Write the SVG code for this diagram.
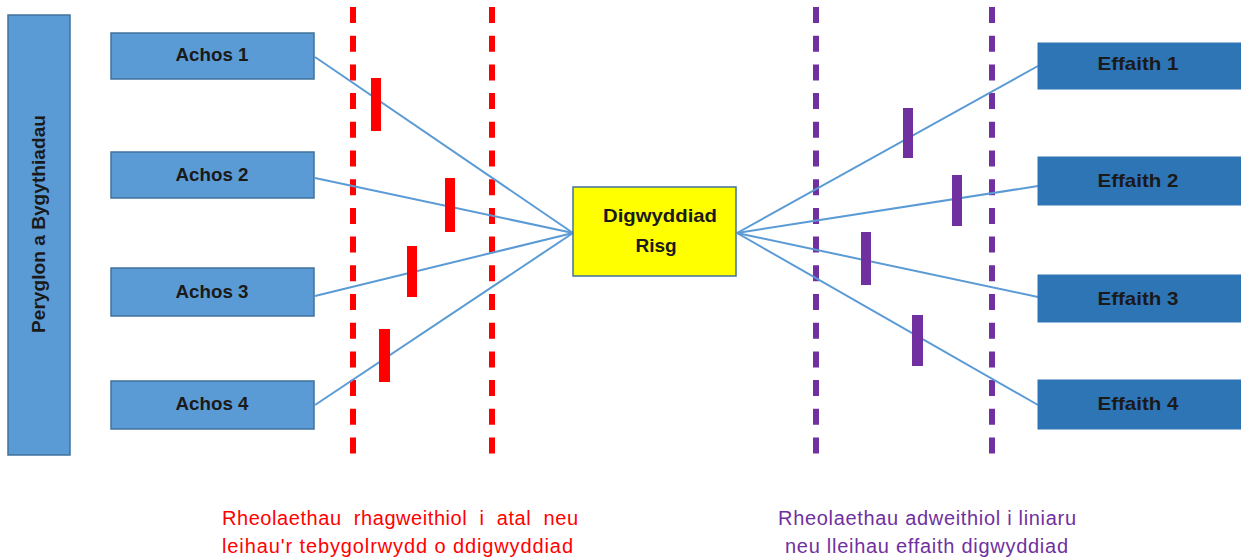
<svg xmlns="http://www.w3.org/2000/svg" width="1241" height="559" viewBox="0 0 1241 559">
<style>
.box{fill:#5b9bd5;stroke:#41719c;stroke-width:1.5}
.ebox{fill:#2e75b6;stroke:#2e75b6;stroke-width:1}
.lbl{font-family:"Liberation Sans",Arial,sans-serif;font-weight:bold;font-size:19px;fill:#1a1a1a;text-anchor:middle}
.conn{stroke:#5b9bd5;stroke-width:2;fill:none}
.rdash{stroke:#ff0000;stroke-width:6;stroke-dasharray:16 12.7;fill:none}
.pdash{stroke:#7030a0;stroke-width:6;stroke-dasharray:16 12.7;fill:none}
.rbar{fill:#ff0000}
.pbar{fill:#7030a0}
.note{font-family:"Liberation Sans",Arial,sans-serif;font-size:20px;white-space:pre}
</style>
<rect width="1241" height="559" fill="#ffffff"/>
<g id="controls">
<line class="rdash" x1="353" y1="7" x2="353" y2="455"/>
<line class="rdash" x1="492" y1="7" x2="492" y2="455"/>
<line class="pdash" x1="816" y1="7" x2="816" y2="455"/>
<line class="pdash" x1="992" y1="7" x2="992" y2="455"/>
</g>
<g id="connectors">
<line class="conn" x1="315" y1="57" x2="573" y2="233"/>
<line class="conn" x1="315" y1="178" x2="573" y2="233"/>
<line class="conn" x1="315" y1="296" x2="573" y2="233"/>
<line class="conn" x1="315" y1="405" x2="573" y2="233"/>
<line class="conn" x1="737" y1="233" x2="1038" y2="66"/>
<line class="conn" x1="737" y1="233" x2="1038" y2="186"/>
<line class="conn" x1="737" y1="233" x2="1038" y2="297"/>
<line class="conn" x1="737" y1="233" x2="1038" y2="405"/>
</g>
<g id="barriers">
<rect class="rbar" x="371" y="78" width="10" height="53"/>
<rect class="rbar" x="445" y="178" width="10" height="54"/>
<rect class="rbar" x="407" y="246" width="10" height="51"/>
<rect class="rbar" x="379" y="329" width="11" height="53"/>
<rect class="pbar" x="903" y="108" width="10" height="50"/>
<rect class="pbar" x="952" y="175" width="10" height="51"/>
<rect class="pbar" x="861" y="232" width="10" height="53"/>
<rect class="pbar" x="912" y="315" width="11" height="51"/>
</g>
<g id="hazards">
<rect class="box" x="8" y="15" width="62" height="440"/>
<text class="lbl" transform="translate(45 224) rotate(-90)" textLength="218" lengthAdjust="spacingAndGlyphs">Peryglon a Bygythiadau</text>
</g>
<g id="achos1"><rect class="box" x="111" y="33" width="203" height="46"/><text class="lbl" x="212" y="61" textLength="73" lengthAdjust="spacingAndGlyphs">Achos 1</text></g>
<g id="achos2"><rect class="box" x="111" y="152" width="203" height="46"/><text class="lbl" x="212" y="181" textLength="73" lengthAdjust="spacingAndGlyphs">Achos 2</text></g>
<g id="achos3"><rect class="box" x="111" y="268" width="203" height="48"/><text class="lbl" x="212" y="298" textLength="73" lengthAdjust="spacingAndGlyphs">Achos 3</text></g>
<g id="achos4"><rect class="box" x="111" y="381" width="203" height="48"/><text class="lbl" x="212" y="410" textLength="73" lengthAdjust="spacingAndGlyphs">Achos 4</text></g>
<g id="risk">
<rect x="573" y="187" width="163" height="89" fill="#ffff00" stroke="#41719c" stroke-width="1.5"/>
<text class="lbl" x="660" y="222" textLength="114" lengthAdjust="spacingAndGlyphs">Digwyddiad</text>
<text class="lbl" x="656" y="252">Risg</text>
</g>
<g id="effaith1"><rect class="ebox" x="1038" y="43" width="210" height="46"/><text class="lbl" x="1138" y="70" textLength="81" lengthAdjust="spacingAndGlyphs">Effaith 1</text></g>
<g id="effaith2"><rect class="ebox" x="1038" y="157" width="210" height="48"/><text class="lbl" x="1138" y="187" textLength="81" lengthAdjust="spacingAndGlyphs">Effaith 2</text></g>
<g id="effaith3"><rect class="ebox" x="1038" y="275" width="210" height="47"/><text class="lbl" x="1138" y="305" textLength="81" lengthAdjust="spacingAndGlyphs">Effaith 3</text></g>
<g id="effaith4"><rect class="ebox" x="1038" y="380" width="210" height="49"/><text class="lbl" x="1138" y="410" textLength="81" lengthAdjust="spacingAndGlyphs">Effaith 4</text></g>
<g id="notes">
<text class="note" x="222" y="525" fill="#ff0000" textLength="356" lengthAdjust="spacing">Rheolaethau  rhagweithiol  i  atal  neu</text>
<text class="note" x="222" y="553" fill="#ff0000" textLength="351" lengthAdjust="spacing">leihau'r tebygolrwydd o ddigwyddiad</text>
<text class="note" x="778" y="525" fill="#7030a0" textLength="298" lengthAdjust="spacing">Rheolaethau adweithiol i liniaru</text>
<text class="note" x="785" y="553" fill="#7030a0" textLength="283" lengthAdjust="spacing">neu lleihau effaith digwyddiad</text>
</g>
</svg>
